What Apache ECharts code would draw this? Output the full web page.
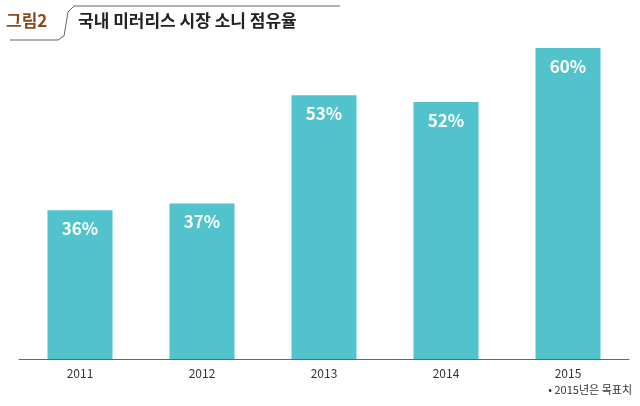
<!DOCTYPE html>
<html>
<head>
<meta charset="utf-8">
<script src="https://cdn.jsdelivr.net/npm/echarts@6/dist/echarts.min.js"></script>
<style>html,body{margin:0;padding:0;background:#fff}#chart{width:640px;height:406px}</style>
</head>
<body>
<div id="chart"></div>
<script>
// 국내 미러리스 시장 소니 점유율
var years = ['2011', '2012', '2013', '2014', '2015'];
var shares = [36, 37, 53, 52, 60];

var chart = echarts.init(document.getElementById('chart'));
var font = '"Noto Sans CJK KR", "Noto Sans", sans-serif';
chart.setOption({
    animation: false,
    grid: { left: 19, right: 11, top: 48, bottom: 47 },
    xAxis: {
        type: 'category',
        data: years,
        axisLine: { lineStyle: { color: '#666', width: 1 } },
        axisTick: { show: false },
        axisLabel: { color: '#333', fontSize: 12, fontFamily: font, margin: 8 }
    },
    yAxis: { type: 'value', min: 14, max: 60, show: false, splitLine: { show: false } },
    series: [{
        type: 'bar',
        data: shares,
        barWidth: 65,
        itemStyle: { color: '#52c3cc' },
        label: {
            show: true,
            position: 'insideTop',
            distance: 10,
            formatter: '{c}%',
            color: '#fff',
            fontSize: 17,
            fontWeight: 'bold',
            fontFamily: font
        }
    }],
    graphic: [
        { type: 'text', left: 6, top: 12, style: { text: '그림2', fill: '#8b4a1c', font: 'bold 17px ' + font } },
        { type: 'polyline', shape: { points: [[10, 40], [58, 40], [64, 36], [68, 12], [74, 6], [340, 6]] },
          style: { stroke: '#666', lineWidth: 1, fill: null } },
        { type: 'text', left: 78, top: 12, style: { text: '국내 미러리스 시장 소니 점유율', fill: '#222', font: 'bold 17px ' + font } },
        { type: 'text', right: 8, top: 384, style: { text: '• 2015년은 목표치', fill: '#333', font: '11px ' + font } }
    ]
});
</script>
</body>
</html>
